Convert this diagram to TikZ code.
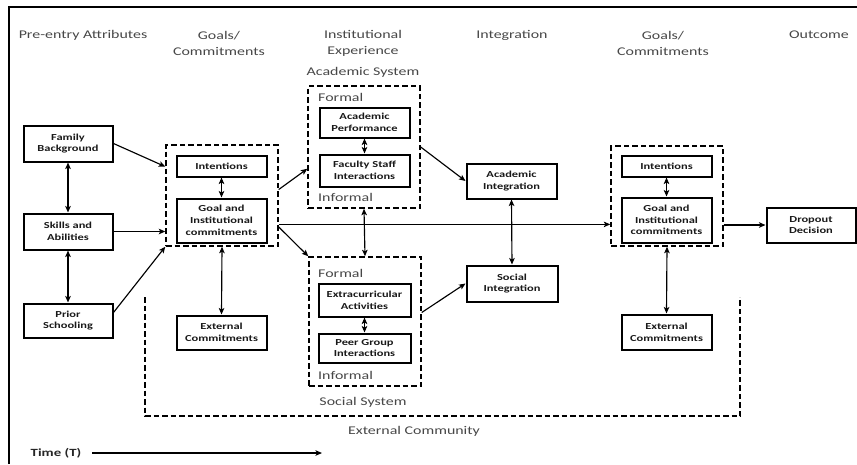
\documentclass[tikz,border=0pt]{standalone}
\usepackage{fontspec}
\setmainfont{Carlito}[FakeStretch=1.35]
\usetikzlibrary{arrows.meta,calc}

\begin{document}
\begin{tikzpicture}[x=1pt,y=-1pt,
  box/.style={draw, line width=2pt, align=center, inner sep=0pt,
    font=\bfseries\fontsize{9.2}{11.7}\selectfont, text=black!90},
  group/.style={draw, line width=1.4pt, dash pattern=on 5.5pt off 3pt, inner sep=0pt},
  head/.style={align=center, inner sep=0pt, font=\fontsize{11.8}{16}\selectfont, text=black!72},
  lbl/.style={inner sep=0pt, font=\fontsize{11.8}{14}\selectfont, text=black!72},
  link/.style={line width=1.15pt, -{Stealth[length=6.5pt,width=5.5pt,inset=1.5pt]}},
  both/.style={line width=1.15pt, {Stealth[length=6.5pt,width=5.5pt,inset=1.5pt]}-{Stealth[length=6.5pt,width=5.5pt,inset=1.5pt]}},
]
\useasboundingbox (0,0) rectangle (857,464);

% frame
\draw[line width=2pt] (9,464) -- (9,7) -- (857,7);

% column headings
\node[head] (hpre) at (83,35) {Pre-entry Attributes};
\node[head] (hgoal1) at (219,43) {Goals/\\Commitments};
\node[head] (hinst) at (363,43) {Institutional\\Experience};
\node[head] (hintg) at (512,35) {Integration};
\node[head] (hgoal2) at (663,43) {Goals/\\Commitments};
\node[head] (hout) at (819,35) {Outcome};

% pre-entry attributes
\node[box, minimum width=89pt, minimum height=36pt] (fam) at (68,143.5) {Family\\Background};
\node[box, minimum width=89pt, minimum height=36pt] (skl) at (68,231.5) {Skills and\\Abilities};
\node[box, minimum width=89pt, minimum height=34pt] (pri) at (68,320.5) {Prior\\Schooling};

% first goals / commitments
\node[group, minimum width=112pt, minimum height=101pt] (g1box) at (222,195.5) {};
\node[box, minimum width=90pt, minimum height=21pt] (int1) at (221.5,166) {Intentions};
\node[box, minimum width=90pt, minimum height=44pt] (goal1) at (221.5,220.5) {Goal and\\Institutional\\commitments};
\node[box, minimum width=90pt, minimum height=34pt] (ext1) at (221.5,332.5) {External\\Commitments};

% academic system
\node[lbl] (acsys) at (363,72) {Academic System};
\node[group, minimum width=112pt, minimum height=122pt] (acbox) at (364,147) {};
\node[lbl, anchor=west] (acform) at (318,97) {Formal};
\node[lbl, anchor=west] (acinf) at (318,197) {Informal};
\node[box, minimum width=90pt, minimum height=30pt] (ap) at (364.5,122.5) {Academic\\Performance};
\node[box, minimum width=90pt, minimum height=32pt] (fsi) at (364.5,170.5) {Faculty Staff\\Interactions};

% social system
\node[group, minimum width=112pt, minimum height=129pt] (sobox) at (365,321.5) {};
\node[lbl, anchor=west] (soform) at (318,273) {Formal};
\node[lbl, anchor=west] (soinf) at (318,375) {Informal};
\node[box, minimum width=92pt, minimum height=33pt] (ea) at (364.5,300) {Extracurricular\\Activities};
\node[box, minimum width=92pt, minimum height=29pt] (pgi) at (364.5,348) {Peer Group\\Interactions};
\node[lbl] (sosys) at (363,402) {Social System};

% integration
\node[box, minimum width=90pt, minimum height=35pt] (ai) at (511.5,181) {Academic\\Integration};
\node[box, minimum width=91pt, minimum height=36pt] (si) at (512,283.5) {Social\\Integration};

% second goals / commitments
\node[group, minimum width=112pt, minimum height=100pt] (g2box) at (667,196) {};
\node[box, minimum width=90pt, minimum height=21pt] (int2) at (666.5,166) {Intentions};
\node[box, minimum width=90pt, minimum height=45pt] (goal2) at (666.5,220) {Goal and\\Institutional\\commitments};
\node[box, minimum width=90pt, minimum height=35pt] (ext2) at (666.5,332) {External\\Commitments};

% outcome
\node[box, minimum width=89pt, minimum height=35pt] (drop) at (811,225) {Dropout\\Decision};

% external community (open at the top)
\coordinate (ecl) at (145,297);
\coordinate (ecr) at (740,297);
\draw[line width=1.4pt, dash pattern=on 5.5pt off 3pt] (ecl) -- (ecl |- 0,416) -- (ecr |- 0,416) -- (ecr);
\node[lbl] (extc) at (414,431) {External Community};

% time axis
\node[font=\bfseries\fontsize{11}{13}\selectfont, text=black!85, inner sep=0pt] (time) at (56,453) {Time (T)};
\coordinate (tend) at (322,453);
\draw[link, line width=1.3pt] ($(time.east)+(11,0)$) -- (tend);

% connectors: pre-entry attributes
\draw[both] (fam.south) -- (skl.north);
\draw[both] (skl.south) -- (pri.north);
\draw[link] (fam.east) -- (g1box.153);
\draw[link] (skl.east) -- (skl.east -| g1box.west);
\draw[link] (pri.10) -- (g1box.south west);

% connectors: first goals / commitments
\draw[both] (int1.south) -- (goal1.north);
\draw[both] (g1box.south) -- (ext1.north);
\draw[link] (g1box.6) -- (acbox.201);
\draw[link] (g1box.-29) -- (sobox.north west);
\draw[link] (g1box.-27) -- (g1box.-27 -| g2box.west);

% connectors: institutional experience
\draw[both] (ap.south) -- (fsi.north);
\draw[both] (ea.south) -- (pgi.north);
\draw[both] (acbox.south) -- (sobox.north);
\draw[link] (acbox.east) -- (ai.west);
\draw[link] (sobox.9) -- (si.west);
\draw[both] (ai.south) -- (si.north);

% connectors: second goals / commitments and outcome
\draw[both] (int2.south) -- (goal2.north);
\draw[both] (g2box.south) -- (ext2.north);
\draw[link] (drop.west -| g2box.east) -- (drop.west);
\end{tikzpicture}
\end{document}
